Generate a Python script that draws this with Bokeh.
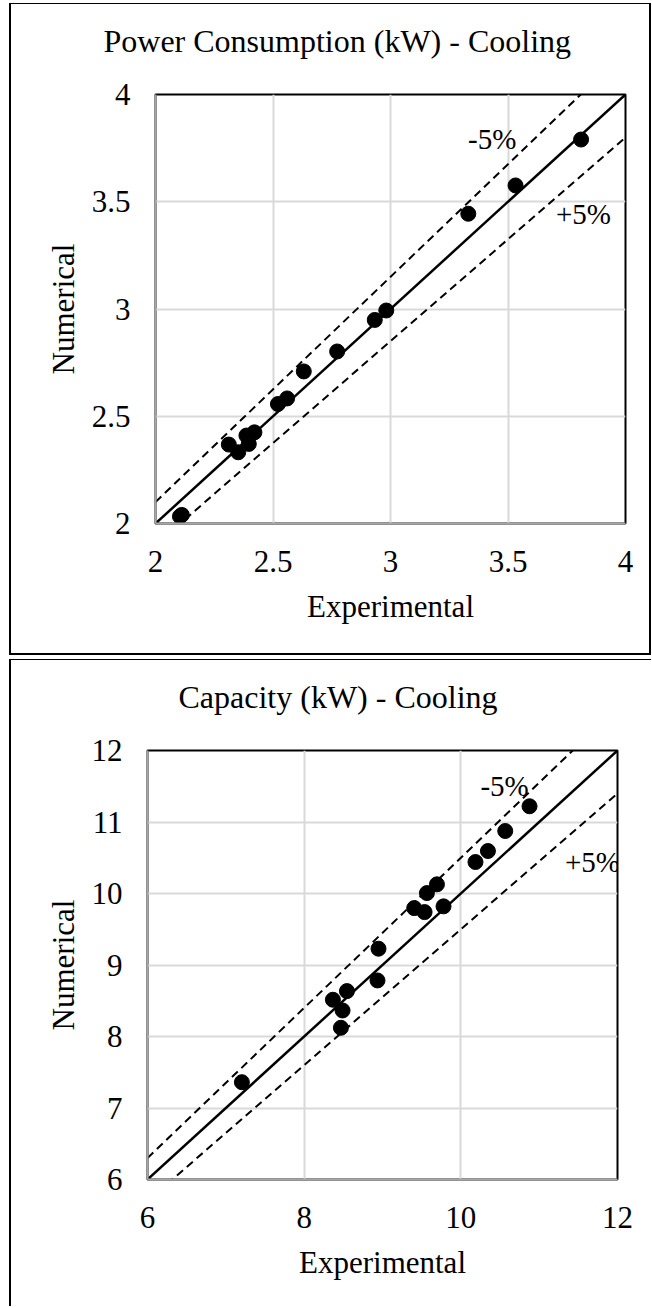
from bokeh.plotting import figure
from bokeh.models import Label, FixedTicker, CustomJSTickFormatter, Title
from bokeh.layouts import column
from bokeh.embed import file_html
from bokeh.resources import INLINE

# ---------------- data ----------------
power_experimental = [2.104, 2.112, 2.312, 2.352, 2.387, 2.397, 2.421, 2.521, 2.560,
                      2.631, 2.773, 2.933, 2.982, 3.331, 3.532, 3.811]
power_numerical = [2.033, 2.040, 2.368, 2.332, 2.410, 2.371, 2.425, 2.557, 2.583,
                   2.709, 2.802, 2.949, 2.993, 3.444, 3.576, 3.790]
power_ticks = [2, 2.5, 3, 3.5, 4]

capacity_experimental = [7.205, 8.367, 8.469, 8.490, 8.546, 8.936, 8.949, 9.405, 9.537,
                         9.567, 9.695, 9.779, 10.187, 10.346, 10.567, 10.877]
capacity_numerical = [7.361, 8.514, 8.122, 8.364, 8.635, 8.784, 9.228, 9.796, 9.740,
                      10.006, 10.128, 9.820, 10.440, 10.594, 10.874, 11.220]
capacity_x_ticks = [6, 8, 10, 12]
capacity_y_ticks = [6, 7, 8, 9, 10, 11, 12]

band = 0.05  # +/- 5 % lines

FONT = "Liberation Serif"


def make_panel(title, xs, ys, lo, hi, xticks, yticks, width, height, borders,
               title_offset, minus_xy, plus_xy, styles):
    p = figure(width=width, height=height, x_range=(lo, hi), y_range=(lo, hi),
               output_backend="svg", toolbar_location=None,
               min_border_left=borders[0], min_border_right=borders[1],
               min_border_top=borders[2], min_border_bottom=borders[3],
               background_fill_color="white", border_fill_color="white")
    p.styles = styles
    p.outline_line_color = "black"
    p.outline_line_width = 2

    # blank spacer between plot area and chart title
    p.add_layout(Title(text=" ", text_font_size="2px", standoff=27), "above")

    # chart title
    p.title.text = title
    p.title.align = "left"
    p.title.offset = title_offset
    p.title.vertical_align = "bottom"
    p.title.standoff = 10
    p.title.text_font = FONT
    p.title.text_font_style = "normal"
    p.title.text_font_size = "32px"
    p.title.text_color = "black"

    fmt = CustomJSTickFormatter(code="return String(tick);")
    for ax, ticks, lab in ((p.xaxis[0], xticks, "Experimental"), (p.yaxis[0], yticks, "Numerical")):
        ax.ticker = FixedTicker(ticks=ticks)
        ax.formatter = fmt
        ax.axis_label = lab
        ax.axis_label_text_font = FONT
        ax.axis_label_text_font_style = "normal"
        ax.axis_label_text_font_size = "31px"
        ax.axis_label_text_color = "black"
        ax.major_label_text_font = FONT
        ax.major_label_text_font_size = "31px"
        ax.major_label_text_color = "black"
        ax.major_tick_in = 0
        ax.major_tick_out = 0
        ax.minor_tick_in = 0
        ax.minor_tick_out = 0
        ax.axis_line_color = "#A6A6A6"
        ax.axis_line_width = 2
    p.xaxis[0].major_label_standoff = 27
    p.xaxis[0].axis_label_standoff = 14
    p.yaxis[0].major_label_standoff = 25
    p.yaxis[0].axis_label_standoff = 8

    for g in (p.xgrid[0], p.ygrid[0]):
        g.grid_line_color = "#D9D9D9"
        g.grid_line_width = 2

    # reference lines: 1:1 and +/-5 %
    ref = [lo, hi]
    p.line(ref, ref, line_color="black", line_width=2.5)
    p.line(ref, [v * (1 + band) for v in ref], line_color="black", line_width=2, line_dash="8 5")
    p.line(ref, [v * (1 - band) for v in ref], line_color="black", line_width=2, line_dash="8 5")

    p.scatter(xs, ys, size=15, color="black")

    p.add_layout(Label(x=minus_xy[0], y=minus_xy[1], text="-5%", text_align="center",
                       text_baseline="middle", text_font=FONT, text_font_size="29px",
                       text_color="black"))
    p.add_layout(Label(x=plus_xy[0], y=plus_xy[1], text="+5%", text_align="center",
                       text_baseline="middle", text_font=FONT, text_font_size="29px",
                       text_color="black"))
    return p


p1 = make_panel("Power Consumption (kW) - Cooling", power_experimental, power_numerical,
                2, 4, power_ticks, power_ticks, 630, 649, (136, 36, 90, 133),
                -52, (3.433, 3.794), (3.821, 3.442),
                {"box-sizing": "content-box", "padding-left": "8px",
                 "border-left": "2px solid black", "border-top": "1px solid black",
                 "border-right": "2px solid black", "border-bottom": "2px solid black"})

p2 = make_panel("Capacity (kW) - Cooling", capacity_experimental, capacity_numerical,
                6, 12, capacity_x_ticks, capacity_y_ticks, 640, 646, (136, 36, 90, 128),
                31, (10.558, 11.498), (11.68, 10.436),
                {"box-sizing": "content-box",
                 "border-left": "2px solid black", "border-top": "1px solid black"})

layout = column(p1, p2, spacing=4, margin=(3, 0, 0, 9))

open("out.html", "w").write(file_html(layout, INLINE))
